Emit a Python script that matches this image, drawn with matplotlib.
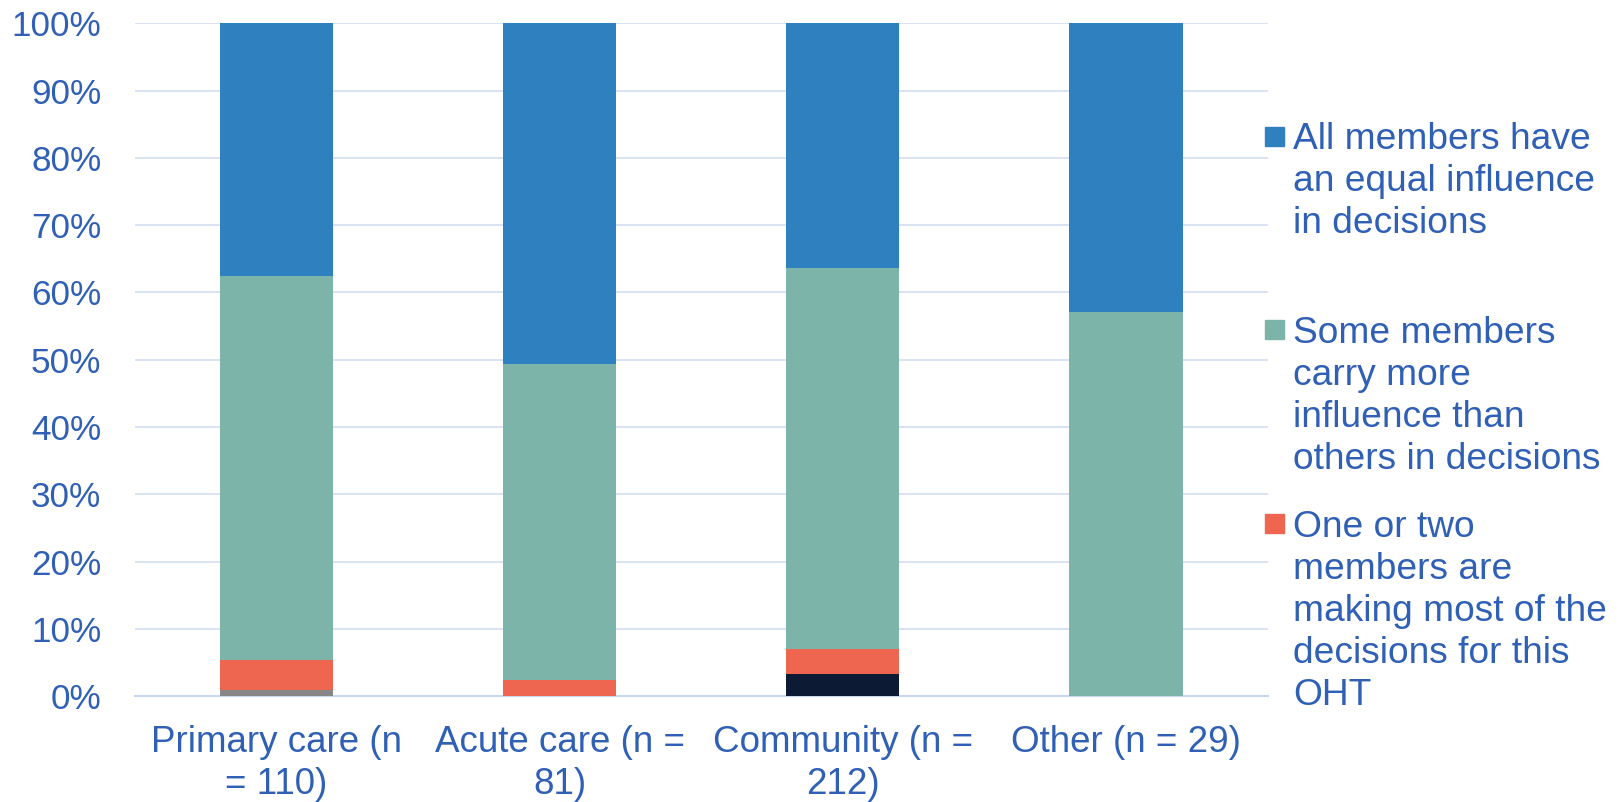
import matplotlib.pyplot as plt
from matplotlib.patches import Rectangle
from matplotlib.ticker import PercentFormatter

plt.rcParams['font.family'] = ['Liberation Sans', 'DejaVu Sans']

# categories and stacked shares (%), bottom to top
categories = ["Primary care (n\n= 110)", "Acute care (n =\n81)",
              "Community (n =\n212)", "Other (n = 29)"]
unlabelled_gray = [0.9, 0.0, 0.0, 0.0]
unlabelled_navy = [0.0, 0.0, 3.3, 0.0]
one_or_two = [4.5, 2.4, 3.7, 0.0]
some_more = [57.1, 46.9, 56.6, 57.1]
all_equal = [37.5, 50.7, 36.4, 42.9]

legend_labels = [
    "All members have\nan equal influence\nin decisions",
    "Some members\ncarry more\ninfluence than\nothers in decisions",
    "One or two\nmembers are\nmaking most of the\ndecisions for this\nOHT",
]

text_color = "#2F60B5"
colors = {"gray": "#878787", "navy": "#0C1B33", "red": "#EE6650",
          "teal": "#7CB4A9", "blue": "#2E80BE"}

fig = plt.figure(figsize=(16.23, 8.02), dpi=100)
ax = fig.add_axes([0.083, 0.132, 0.698, 0.839])

x = range(len(categories))
width = 0.4
bottom = [0.0] * len(categories)
series = [(unlabelled_gray, "gray"), (unlabelled_navy, "navy"),
          (one_or_two, "red"), (some_more, "teal"), (all_equal, "blue")]
for vals, c in series:
    ax.bar(x, vals, width, bottom=bottom, color=colors[c], zorder=3)
    bottom = [b + v for b, v in zip(bottom, vals)]

ax.set_xlim(-0.5, len(categories) - 0.5)
ax.set_ylim(0, 100)
ax.set_yticks(range(0, 101, 10))
ax.yaxis.set_major_formatter(PercentFormatter(decimals=0))
ax.set_xticks(list(x))
ax.set_xticklabels(categories, linespacing=1.25, fontsize=26.5)

ax.grid(axis="y", color="#D5E0F2", linewidth=1.3, zorder=0)
for s in ["top", "right", "left"]:
    ax.spines[s].set_visible(False)
ax.spines["bottom"].set_color("#C9D8F0")
ax.spines["bottom"].set_linewidth(1.5)
ax.tick_params(axis="both", length=0, colors=text_color)
ax.tick_params(axis="y", pad=24, labelsize=25.3)
ax.tick_params(axis="x", pad=21)

# legend drawn by hand: marker aligned with the first line of each label
leg_colors = [colors["blue"], colors["teal"], colors["red"]]
leg_centers = [0.8298, 0.5885, 0.3466]
for lab, c, yc in zip(legend_labels, leg_colors, leg_centers):
    fig.patches.append(Rectangle((0.7794, yc - 0.0118), 0.0117, 0.0237,
                                 transform=fig.transFigure, color=c))
    fig.text(0.7967, yc + 0.018, lab, va="top", ha="left", fontsize=26.7,
             color=text_color, linespacing=1.26)

fig.savefig("out.png", dpi=100)
